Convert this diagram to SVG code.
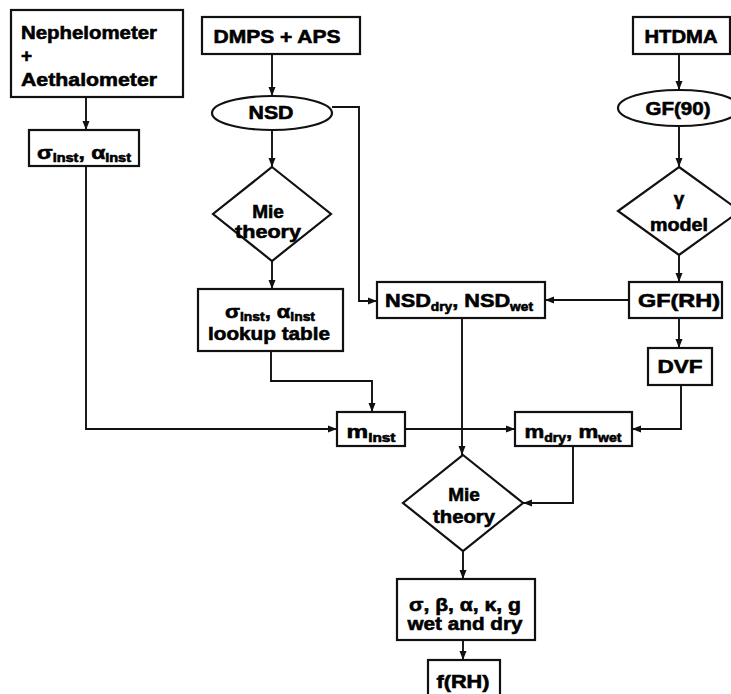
<svg xmlns="http://www.w3.org/2000/svg" width="731" height="694" viewBox="0 0 731 694">
<defs>
<marker id="ah" markerWidth="9" markerHeight="8" refX="9" refY="4" orient="auto" markerUnits="userSpaceOnUse"><path d="M0,0.5 L9,4 L0,7.5 Z" fill="#111"/></marker>
</defs>
<style>
.box{fill:#fff;stroke:#111;stroke-width:2.2}
.ln{fill:none;stroke:#111;stroke-width:1.9;marker-end:url(#ah)}
text{font-family:"Liberation Sans",Arial,sans-serif;font-weight:bold;font-size:19px;fill:#000;stroke:#000;stroke-width:0.6}
.c{text-anchor:middle}
.s{font-size:12px}
</style>
<rect width="731" height="694" fill="#fff"/>
<g id="connectors">
<path class="ln" d="M86,97 V130"/>
<path class="ln" d="M86,166 V429 H337"/>
<path class="ln" d="M272,54 V96"/>
<path class="ln" d="M272,130 V167"/>
<path class="ln" d="M332,107 H359 V301 H377"/>
<path class="ln" d="M272,261 V289"/>
<path class="ln" d="M271,351 V381 H372 V412"/>
<path class="ln" d="M679,54 V90"/>
<path class="ln" d="M679,126 V167"/>
<path class="ln" d="M679,255 V282"/>
<path class="ln" d="M629,300 H545"/>
<path class="ln" d="M679,318 V348"/>
<path class="ln" d="M681,385 V429 H632"/>
<path class="ln" d="M405,429 H515"/>
<path class="ln" d="M462,318 V455"/>
<path class="ln" d="M573,446 V503 H523"/>
<path class="ln" d="M463,551 V579"/>
<path class="ln" d="M463,640 V660"/>
</g>
<g id="nephelometer">
<rect class="box" x="11" y="10" width="172" height="87"/>
<text x="21" y="39" textLength="136" lengthAdjust="spacingAndGlyphs">Nephelometer</text>
<text x="21" y="62">+</text>
<text x="21" y="86" textLength="136" lengthAdjust="spacingAndGlyphs">Aethalometer</text>
</g>
<g id="sigma_inst">
<rect class="box" x="29" y="130" width="110" height="36"/>
<text class="c" x="84" y="159" textLength="94" lengthAdjust="spacingAndGlyphs">σ<tspan class="s" dy="3">inst</tspan><tspan dy="-3">, α</tspan><tspan class="s" dy="3">inst</tspan></text>
</g>
<g id="dmps_aps">
<rect class="box" x="202" y="17" width="158" height="37"/>
<text class="c" x="277" y="43" textLength="127" lengthAdjust="spacingAndGlyphs">DMPS + APS</text>
</g>
<g id="nsd">
<ellipse class="box" cx="272" cy="113" rx="60" ry="17"/>
<text class="c" x="271" y="119" textLength="45" lengthAdjust="spacingAndGlyphs">NSD</text>
</g>
<g id="mie1">
<polygon class="box" points="272,167 331,214 272,261 213,214"/>
<text class="c" x="268" y="218">Mie</text>
<text class="c" x="268" y="238" textLength="66" lengthAdjust="spacingAndGlyphs">theory</text>
</g>
<g id="lookup">
<rect class="box" x="198" y="289" width="145" height="62"/>
<text class="c" x="270" y="318" textLength="90" lengthAdjust="spacingAndGlyphs">σ<tspan class="s" dy="3">inst</tspan><tspan dy="-3">, α</tspan><tspan class="s" dy="3">inst</tspan></text>
<text class="c" x="269" y="340" textLength="122" lengthAdjust="spacingAndGlyphs">lookup table</text>
</g>
<g id="htdma">
<rect class="box" x="633" y="17" width="97" height="37"/>
<text class="c" x="681" y="43" textLength="73" lengthAdjust="spacingAndGlyphs">HTDMA</text>
</g>
<g id="gf90">
<ellipse class="box" cx="679" cy="108" rx="61" ry="18"/>
<text class="c" x="678" y="115" textLength="65" lengthAdjust="spacingAndGlyphs">GF(90)</text>
</g>
<g id="gamma_model">
<polygon class="box" points="679,167 740,211 679,255 618,211"/>
<text class="c" x="679" y="205">γ</text>
<text class="c" x="679" y="231" textLength="58" lengthAdjust="spacingAndGlyphs">model</text>
</g>
<g id="gfrh">
<rect class="box" x="629" y="282" width="93" height="36"/>
<text class="c" x="679" y="307" textLength="82" lengthAdjust="spacingAndGlyphs">GF(RH)</text>
</g>
<g id="nsd_dry_wet">
<rect class="box" x="377" y="282" width="168" height="36"/>
<text class="c" x="459" y="307" textLength="148" lengthAdjust="spacingAndGlyphs">NSD<tspan class="s" dy="4">dry</tspan><tspan dy="-4">, NSD</tspan><tspan class="s" dy="4">wet</tspan></text>
</g>
<g id="dvf">
<rect class="box" x="648" y="348" width="64" height="37"/>
<text class="c" x="680" y="373" textLength="45" lengthAdjust="spacingAndGlyphs">DVF</text>
</g>
<g id="m_inst">
<rect class="box" x="337" y="412" width="68" height="34"/>
<text class="c" x="371" y="438" textLength="49" lengthAdjust="spacingAndGlyphs">m<tspan class="s" dy="4">inst</tspan></text>
</g>
<g id="m_dry_wet">
<rect class="box" x="515" y="412" width="117" height="34"/>
<text class="c" x="573" y="438" textLength="97" lengthAdjust="spacingAndGlyphs">m<tspan class="s" dy="4">dry</tspan><tspan dy="-4">, m</tspan><tspan class="s" dy="4">wet</tspan></text>
</g>
<g id="mie2">
<polygon class="box" points="463,455 523,503 463,551 403,503"/>
<text class="c" x="464" y="501">Mie</text>
<text class="c" x="464" y="523" textLength="62" lengthAdjust="spacingAndGlyphs">theory</text>
</g>
<g id="optics">
<rect class="box" x="397" y="579" width="138" height="61"/>
<text class="c" x="465" y="611" textLength="112" lengthAdjust="spacingAndGlyphs">σ, β, α, κ, g</text>
<text class="c" x="465" y="630" textLength="115" lengthAdjust="spacingAndGlyphs">wet and dry</text>
</g>
<g id="frh">
<rect class="box" x="428" y="660" width="72" height="40"/>
<text class="c" x="463" y="688" textLength="53" lengthAdjust="spacingAndGlyphs">f(RH)</text>
</g>
</svg>
